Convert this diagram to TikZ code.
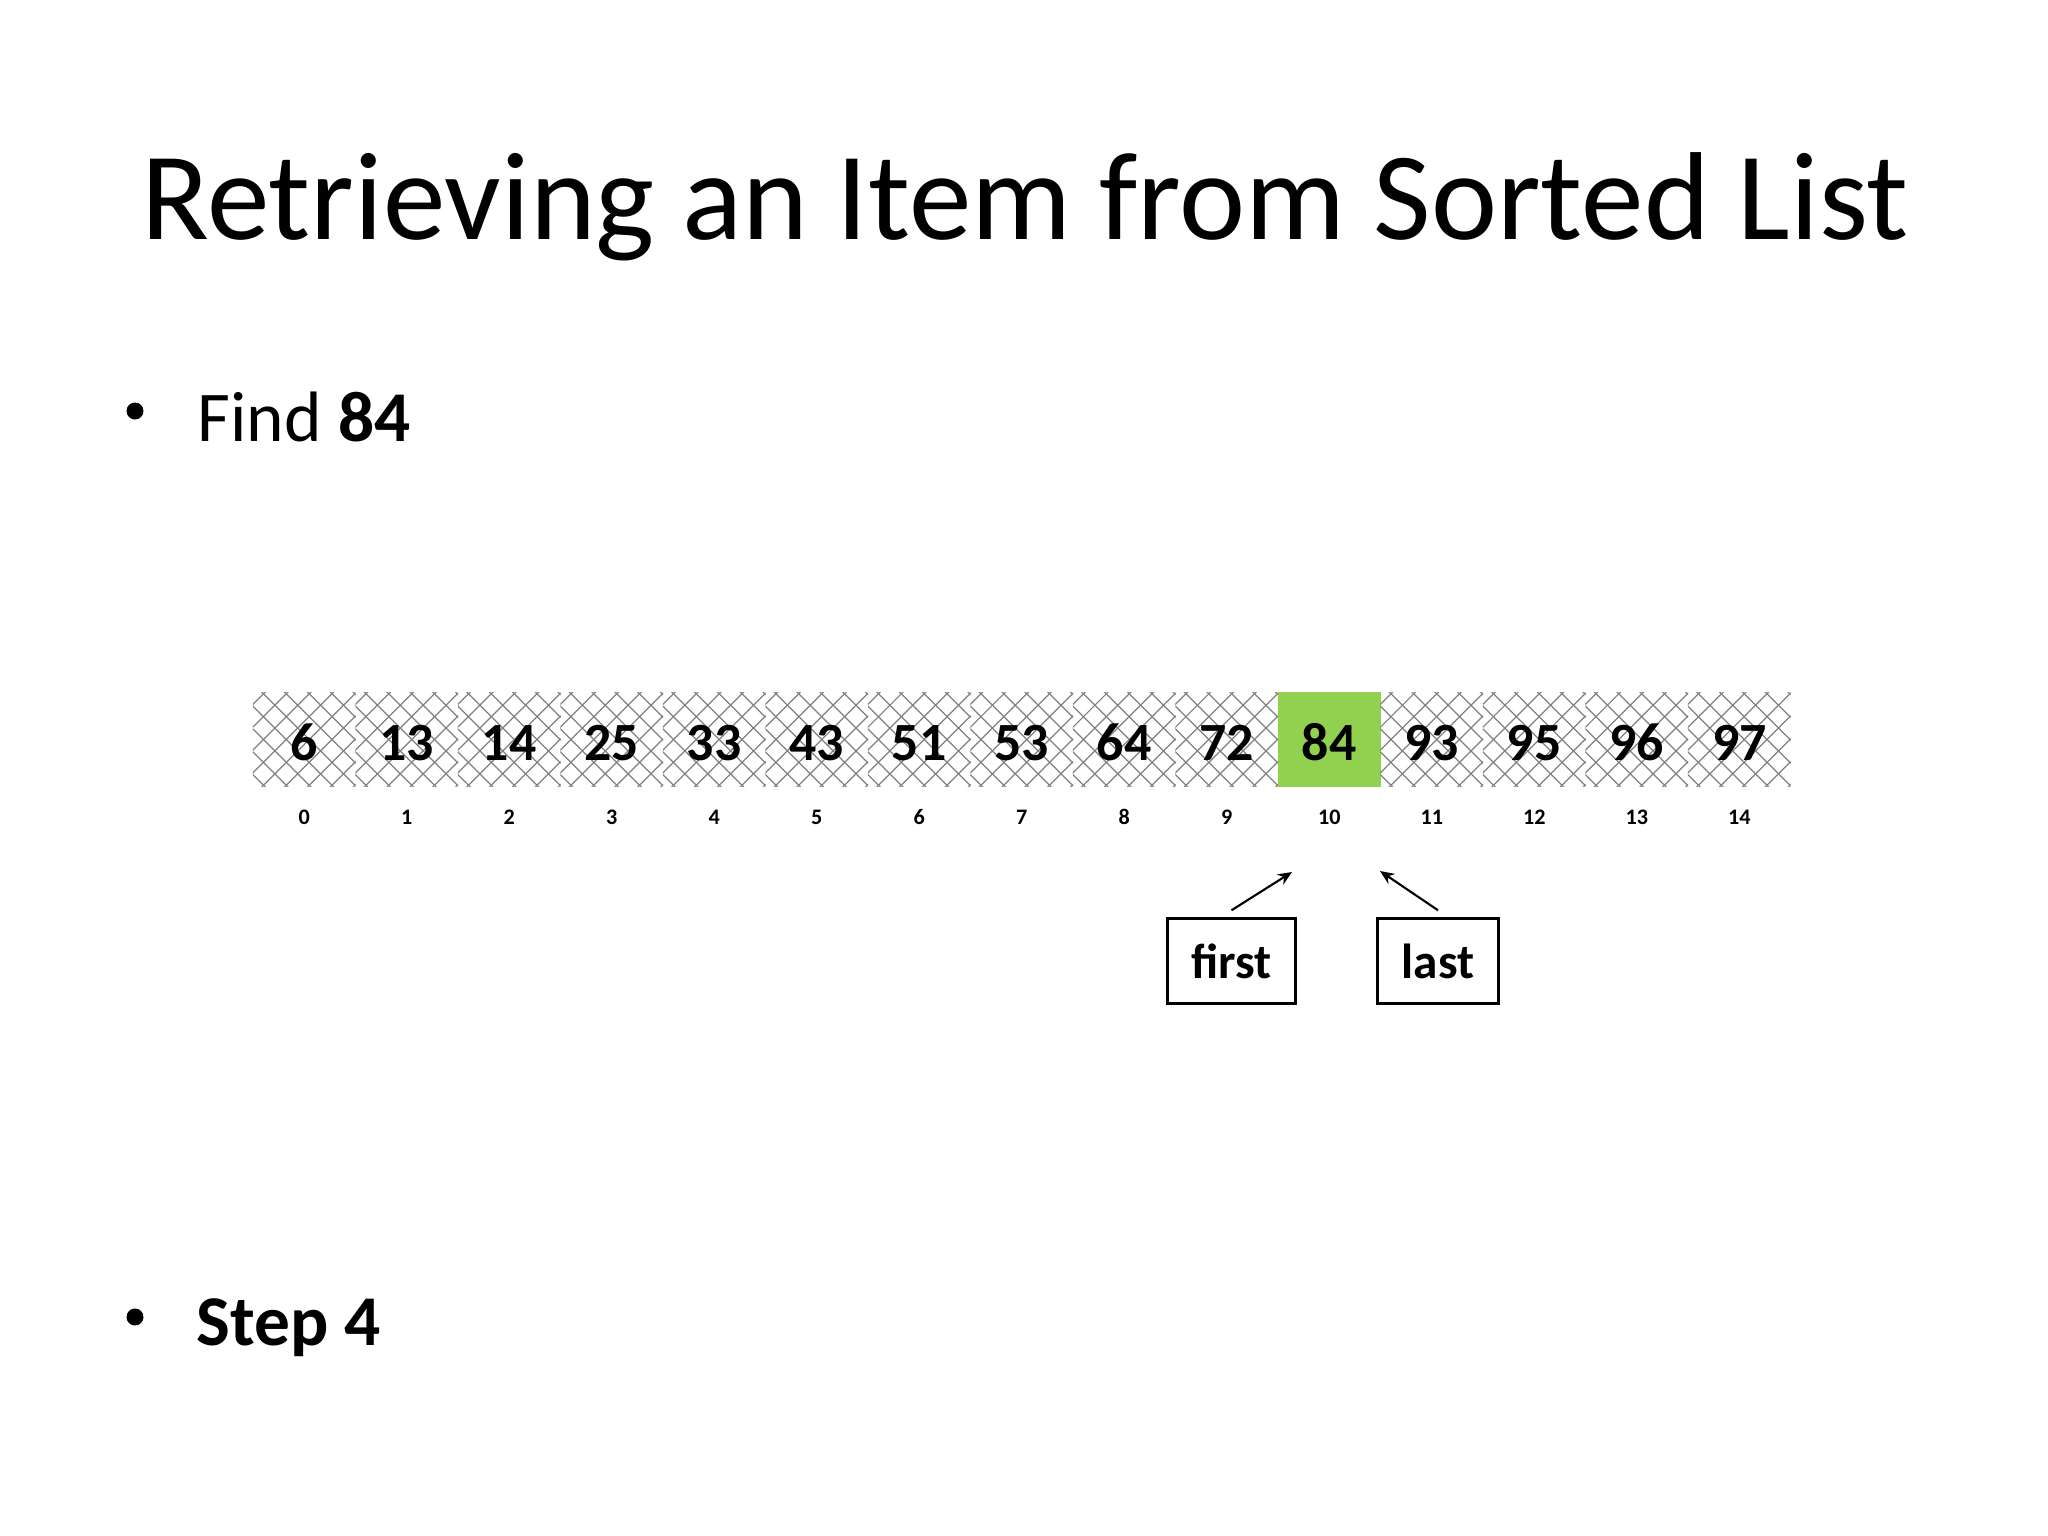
\documentclass[tikz,border=0pt]{standalone}
\usepackage{fontspec}
\setmainfont{Carlito}
\usetikzlibrary{positioning,arrows.meta}
\definecolor{hitgreen}{RGB}{146,208,80}

\begin{document}
\begin{tikzpicture}[x=0.01cm,y=-0.01cm,
		cell/.style={minimum width=29.2pt,minimum height=27pt,inner sep=0pt,
			text height=12.2pt,text depth=0pt,
			font=\fontsize{15.3}{18}\selectfont\bfseries},
		hatched/.style={path picture={
				\foreach \k in {-5,...,5} {
					\draw[gray,line width=0.35pt] ([xshift=\k*6.5pt+1.4pt]path picture bounding box.center) ++(-20pt,-20pt) -- ++(40pt,40pt);
					\draw[gray,line width=0.35pt] ([xshift=\k*6.5pt+1.4pt]path picture bounding box.center) ++(20pt,-20pt) -- ++(-40pt,40pt);
				}}},
		found/.style={fill=hitgreen},
		idx/.style={inner sep=0pt,font=\fontsize{6.3}{8}\selectfont\bfseries},
		ptrbox/.style={draw,line width=0.85pt,minimum height=24pt,inner xsep=6.8pt,
			font=\fontsize{14}{17}\selectfont\bfseries},
		ptr/.style={line width=0.6pt,-{Stealth[length=4pt,width=3.4pt]}}]
	\useasboundingbox (0,0) rectangle (2048,1536);
	% heading and bullets
	\node[anchor=base,inner sep=0pt,font=\fontsize{35.6}{42}\selectfont] (title) at (1025,239) {Retrieving an Item from Sorted List};
	\fill (135,411) circle (8.5);
	\node[anchor=base west,inner sep=0pt,font=\fontsize{20.3}{24}\selectfont] (find) at (197,441) {Find \textbf{84}};
	\fill (135,1317) circle (8.5);
	\node[anchor=base west,inner sep=0pt,font=\fontsize{20.3}{24}\selectfont\bfseries] (stepno) at (196,1345) {Step 4};
	% the list and its indices
	\foreach \v/\look [count=\i from 0] in {6/hatched,13/hatched,14/hatched,25/hatched,33/hatched,
			43/hatched,51/hatched,53/hatched,64/hatched,72/hatched,84/found,93/hatched,95/hatched,96/hatched,97/hatched}
	{
		\node[cell,\look] (c\i) at (304.25+102.5*\i,739.5) {\v};
		\node[idx] (n\i) at (304.25+102.5*\i,817) {\i};
	}
	% first and last
	\node[ptrbox] (first) at (1231.5,961) {first};
	\node[ptrbox] (last) at (1438,961) {last};
	\coordinate (firsttip) at (1292,872);
	\coordinate (lasttip) at (1380,871);
	\draw[ptr] ([yshift=2pt]first.north) -- (firsttip);
	\draw[ptr] ([yshift=2pt]last.north) -- (lasttip);
\end{tikzpicture}
\end{document}
